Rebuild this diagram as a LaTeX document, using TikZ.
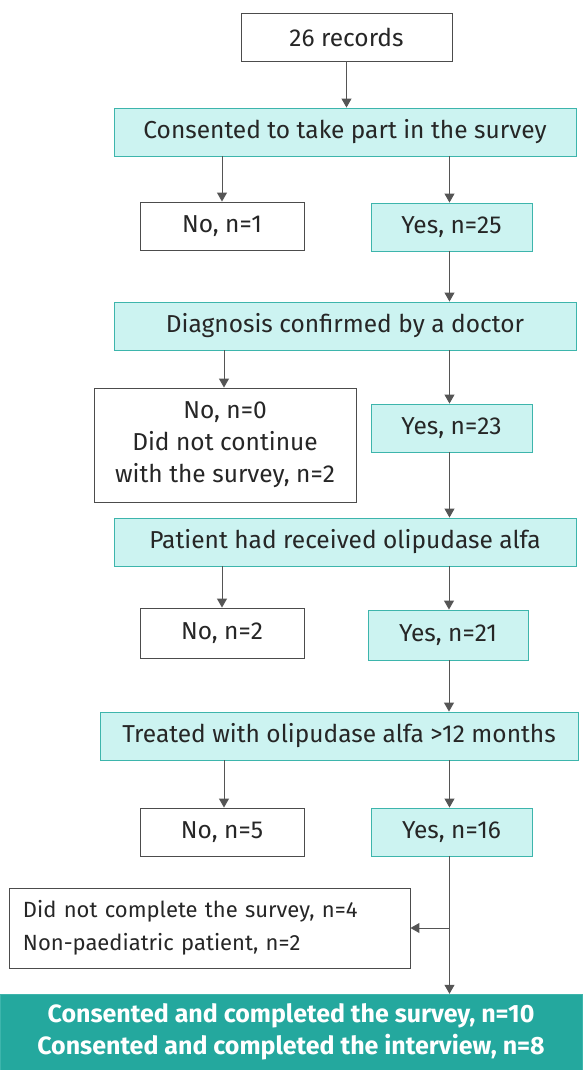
\documentclass[tikz,border=0pt]{standalone}
\usepackage{fontspec}
\setmainfont{Fira Sans}
\usetikzlibrary{arrows.meta}
\definecolor{lightc}{HTML}{CCF3F1}
\definecolor{tealb}{HTML}{3DB5AC}
\definecolor{tealf}{HTML}{24A89E}
\definecolor{arr}{HTML}{555555}
\definecolor{txt}{HTML}{262626}
\tikzset{
  box/.style={draw=black!70, line width=0.9pt, fill=white, text=txt, font=\fontsize{24.5}{32}\selectfont, align=center, inner sep=0pt},
  cbox/.style={box, draw=tealb, fill=lightc},
  conn/.style={draw=arr, line width=1pt, -{Triangle[length=9pt,width=10pt]}},
  plain/.style={draw=arr, line width=1pt}
}
\begin{document}
\begin{tikzpicture}[x=1pt,y=-1pt]
\useasboundingbox (0,0) rectangle (582,1070);
\node[box, minimum width=211pt, minimum height=48pt] (rec) at (346.5,37) {26 records};
\node[cbox, minimum width=462pt, minimum height=48pt] (q1) at (345,132) {Consented to take part in the survey};
\node[box, minimum width=164pt, minimum height=48pt] (n1) at (222,226) {No, n=1};
\node[cbox, minimum width=161pt, minimum height=48pt] (y1) at (451.5,227) {Yes, n=25};
\node[cbox, minimum width=462pt, minimum height=48pt] (q2) at (345,326) {Diagnosis confirmed by a doctor};
\node[box, minimum width=262pt, minimum height=114pt] (n2) at (225,445) {No, n=0\\Did not continue\\with the survey, n=2};
\node[cbox, minimum width=161pt, minimum height=48pt] (y2) at (451.5,428) {Yes, n=23};
\node[cbox, minimum width=462pt, minimum height=48pt] (q3) at (345,542) {Patient had received olipudase alfa};
\node[box, minimum width=164pt, minimum height=50pt] (n3) at (222,633) {No, n=2};
\node[cbox, minimum width=160pt, minimum height=50pt] (y3) at (448,635) {Yes, n=21};
\node[cbox, minimum width=478pt, minimum height=48pt] (q4) at (339,736) {Treated with olipudase alfa >12 months};
\node[box, minimum width=164pt, minimum height=48pt] (n4) at (222,832) {No, n=5};
\node[cbox, minimum width=161pt, minimum height=48pt] (y4) at (451.5,832) {Yes, n=16};
\node[box, minimum width=401pt, minimum height=80pt, align=left, text width=373pt, font=\fontsize{22}{33}\selectfont] (ex) at (209.5,928) {Did not complete the survey, n=4\\Non-paediatric patient, n=2};
\node[fill=tealf, draw=tealb, minimum width=582pt, minimum height=76pt, inner sep=0pt, text=white, align=center, font=\fontsize{25}{32}\selectfont\bfseries] (fin) at (291,1032) {Consented and completed the survey, n=10\\Consented and completed the interview, n=8};
% connectors
\draw[conn] (rec.south) -- (q1.north -| rec.south);
\draw[conn] (q1.south -| n1.north) -- (n1.north);
\draw[conn] ([xshift=-2pt]q1.south -| y1.north) -- ([xshift=-2pt]y1.north);
\draw[conn] ([xshift=-2pt]y1.south) -- ([xshift=-2pt]q2.north -| y1.south);
\draw[conn] ([xshift=2pt]q2.south -| n1.north) -- ([xshift=2pt]n2.north -| n1.north);
\draw[conn] ([xshift=-2pt]q2.south -| y2.north) -- ([xshift=-2pt]y2.north);
\draw[conn] ([xshift=-2pt]y2.south) -- ([xshift=-2pt]q3.north -| y2.south);
\draw[conn] (q3.south -| n3.north) -- (n3.north);
\draw[conn] ([xshift=1pt]q3.south -| y3.north) -- ([xshift=1pt]y3.north);
\draw[conn] ([xshift=1pt]y3.south) -- ([xshift=1pt]q4.north -| y3.south);
\draw[conn] ([xshift=2pt]q4.south -| n4.north) -- ([xshift=2pt]n4.north);
\draw[conn] ([xshift=-2pt]q4.south -| y4.north) -- ([xshift=-2pt]y4.north);
\coordinate (br) at ([xshift=-2pt]y4.south |- ex.east);
\draw[plain] ([xshift=-2pt]y4.south) -- (br);
\draw[conn] (br) -- (ex.east);
\draw[conn] (br) -- (fin.north -| br);
\end{tikzpicture}
\end{document}
